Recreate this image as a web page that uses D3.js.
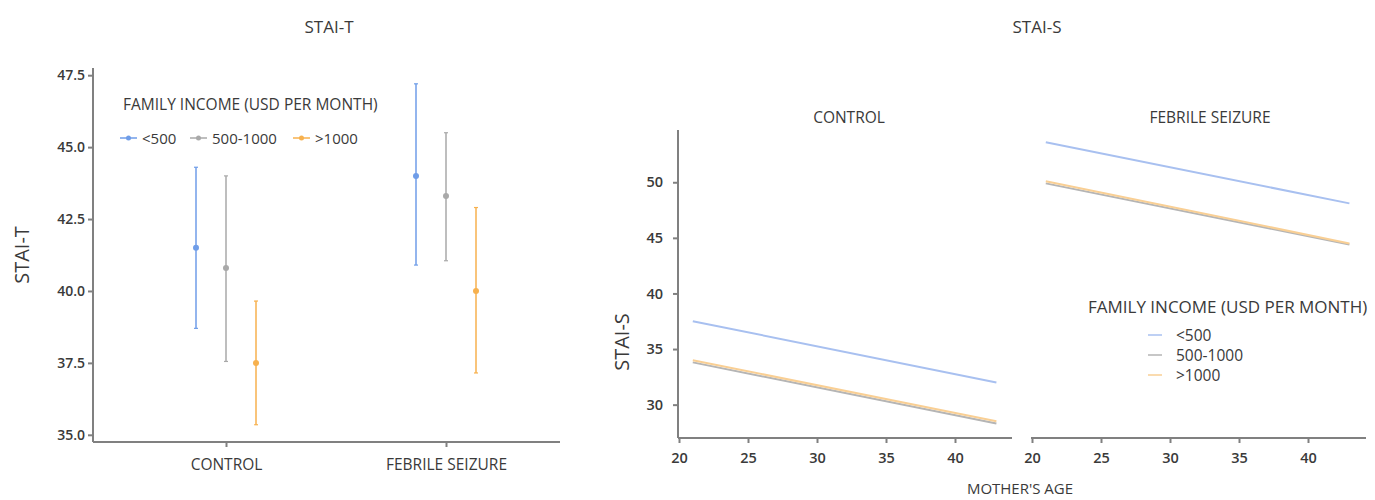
<!DOCTYPE html>
<html>
<head>
<meta charset="utf-8">
<script src="https://cdn.jsdelivr.net/npm/d3@7"></script>
<style>
  body { margin: 0; background: #fff; }
  text { font-family: "Open Sans", Lato, sans-serif; fill: #3a3a3a; }
  .axis path, .axis line { stroke: #808080; stroke-width: 2; }
  .axis text { font-size: 14px; font-weight: 600; fill: #3a3a3a; }
</style>
</head>
<body>
<svg id="drawing_region"></svg>
<script>
// data
const groups = ["CONTROL", "FEBRILE SEIZURE"];
const incomes = ["<500", "500-1000", ">1000"];
const colors = ["#6f9de8", "#a9a9a9", "#f7b14e"];
const lineColors = ["#a8c0f0", "#b5b5b5", "#f9cf94"];

// STAI-T mean and CI, one array per group, ordered by income
const staiT_mean  = { "CONTROL": [41.5, 40.8, 37.5], "FEBRILE SEIZURE": [44.0, 43.3, 40.0] };
const staiT_lower = { "CONTROL": [38.7, 37.55, 35.35], "FEBRILE SEIZURE": [40.9, 41.05, 37.15] };
const staiT_upper = { "CONTROL": [44.3, 44.0, 39.65], "FEBRILE SEIZURE": [47.2, 45.5, 42.9] };
const staiT_ticks = [35.0, 37.5, 40.0, 42.5, 45.0, 47.5];

// STAI-S fitted line endpoints vs mother's age
const ageRange = [21, 43];
const staiS_start = { "CONTROL": [37.5, 33.8, 34.0], "FEBRILE SEIZURE": [53.6, 49.9, 50.1] };
const staiS_end   = { "CONTROL": [32.0, 28.3, 28.5], "FEBRILE SEIZURE": [48.1, 44.4, 44.5] };
const staiS_ticks = [30, 35, 40, 45, 50];
const age_ticks = [20, 25, 30, 35, 40];

const svg = d3.select("#drawing_region").attr("width", 1375).attr("height", 500);

// ---------- left: STAI-T ----------
const L = { left: 93, right: 560, top: 68, bottom: 442 };
const yT = d3.scaleLinear().domain([34.75, 47.75]).range([L.bottom, L.top]);
const xT = d3.scalePoint().domain(groups).range([226, 446]);
const xDodge = d3.scalePoint().domain(incomes).range([-30, 30]);

svg.append("text").attr("x", 329).attr("y", 33).attr("text-anchor", "middle")
  .style("font-size", "17px").text("STAI-T");

svg.append("g").attr("class", "axis").attr("transform", `translate(${L.left},0)`)
  .call(d3.axisLeft(yT).tickValues(staiT_ticks).tickFormat(d3.format(".1f")).tickSize(5).tickSizeOuter(0))
  .call(g => g.select(".domain").attr("d", `M0,${L.top}V${L.bottom}`));

svg.append("g").attr("class", "axis").attr("transform", `translate(0,${L.bottom})`)
  .call(d3.axisBottom(xT).tickSize(5).tickPadding(12))
  .call(g => g.select(".domain").attr("d", `M${L.left},0H${L.right}`))
  .call(g => g.selectAll(".tick text").style("font-size", "15.5px").style("font-weight", 400));

svg.append("text").attr("transform", `translate(29,255) rotate(-90)`).attr("text-anchor", "middle")
  .style("font-size", "20px").text("STAI-T");

groups.forEach(g => {
  incomes.forEach((inc, i) => {
    const x = xT(g) + xDodge(inc);
    svg.append("line").attr("x1", x).attr("x2", x)
      .attr("y1", yT(staiT_lower[g][i])).attr("y2", yT(staiT_upper[g][i]))
      .attr("stroke", colors[i]).attr("stroke-width", 1.5);
    [staiT_lower[g][i], staiT_upper[g][i]].forEach(v => {
      svg.append("line").attr("x1", x - 2).attr("x2", x + 2).attr("y1", yT(v)).attr("y2", yT(v))
        .attr("stroke", colors[i]).attr("stroke-width", 1.2);
    });
    svg.append("circle").attr("cx", x).attr("cy", yT(staiT_mean[g][i])).attr("r", 3).attr("fill", colors[i]);
  });
});

// left legend
svg.append("text").attr("x", 123).attr("y", 110).style("font-size", "15.5px")
  .text("FAMILY INCOME (USD PER MONTH)");
const legX = [120, 190, 293];
incomes.forEach((inc, i) => {
  const lg = svg.append("g").attr("transform", `translate(${legX[i]},138)`);
  lg.append("line").attr("x1", 0).attr("x2", 17).attr("stroke", colors[i]).attr("stroke-width", 1.5);
  lg.append("circle").attr("cx", 8.5).attr("r", 2.5).attr("fill", colors[i]);
  lg.append("text").attr("x", 22).attr("y", 5.5).style("font-size", "15px").text(inc);
});

// ---------- right: STAI-S facets ----------
svg.append("text").attr("x", 1037).attr("y", 33).attr("text-anchor", "middle")
  .style("font-size", "17px").text("STAI-S");

const yS = d3.scaleLinear().domain([27.0, 54.7]).range([438, 130]);
const facets = [
  { g: "CONTROL", x0: 679, axisStart: 678, axisEnd: 1012, yAxis: true, cx: 849 },
  { g: "FEBRILE SEIZURE", x0: 1032, axisStart: 1031, axisEnd: 1366, yAxis: false, cx: 1210 }
];

facets.forEach(f => {
  const xS = d3.scaleLinear().domain([20, 40]).range([f.x0, f.x0 + 276]);
  svg.append("g").attr("class", "axis").attr("transform", `translate(0,438)`)
    .call(d3.axisBottom(xS).tickValues(age_ticks).tickSize(5).tickPadding(10))
    .call(g => g.select(".domain").attr("d", `M${f.axisStart},0H${f.axisEnd}`))
    .call(g => g.selectAll(".tick text").style("font-size", "14.5px"));
  if (f.yAxis) {
    svg.append("g").attr("class", "axis").attr("transform", `translate(${f.axisStart},0)`)
      .call(d3.axisLeft(yS).tickValues(staiS_ticks).tickSize(5).tickPadding(10))
      .call(g => g.select(".domain").attr("d", `M0,130V438`))
      .call(g => g.selectAll(".tick text").style("font-size", "14.5px"));
  }
  svg.append("text").attr("x", f.cx).attr("y", 123).attr("text-anchor", "middle")
    .style("font-size", "15.5px").text(f.g);
  // draw grey first, then orange, then blue
  [1, 2, 0].forEach(i => {
    svg.append("line")
      .attr("x1", xS(ageRange[0])).attr("y1", yS(staiS_start[f.g][i]))
      .attr("x2", xS(ageRange[1])).attr("y2", yS(staiS_end[f.g][i]))
      .attr("stroke", lineColors[i]).attr("stroke-width", 2);
  });
});

svg.append("text").attr("transform", `translate(629,342) rotate(-90)`).attr("text-anchor", "middle")
  .style("font-size", "20px").text("STAI-S");
svg.append("text").attr("x", 1020).attr("y", 494).attr("text-anchor", "middle")
  .style("font-size", "15px").text("MOTHER'S AGE");

// right legend
svg.append("text").attr("x", 1088).attr("y", 313).style("font-size", "17px")
  .text("FAMILY INCOME (USD PER MONTH)");
incomes.forEach((inc, i) => {
  const y = 335 + i * 20;
  svg.append("line").attr("x1", 1148).attr("x2", 1162).attr("y1", y).attr("y2", y)
    .attr("stroke", lineColors[i]).attr("stroke-width", 1.5);
  svg.append("text").attr("x", 1176).attr("y", y + 5.5).style("font-size", "15.5px").text(inc);
});
</script>
</body>
</html>
